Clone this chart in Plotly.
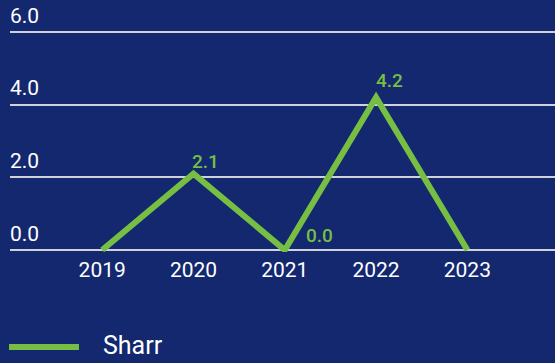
import plotly.graph_objects as go

years = ["2019", "2020", "2021", "2022", "2023"]
values = [0.0, 2.1, 0.0, 4.2, 0.0]
label_flags = [False, True, True, True, False]
series_name = "Sharr"
y_ticks = [0, 2, 4, 6]

# pixel offsets for value labels (style, not data)
label_xshift = [0, 12, 35, 13, 0]
label_yshift = [0, 12, 15, 17, 0]

BG = "#13286f"
GREEN = "#76bf43"

fig = go.Figure()
fig.add_trace(go.Scatter(
    x=years, y=values, mode="lines", name=series_name,
    line=dict(color=GREEN, width=6), cliponaxis=False, showlegend=False,
))

for i, (yr, v) in enumerate(zip(years, values)):
    if label_flags[i]:
        fig.add_annotation(
            x=i, y=v, xref="x", yref="y", text=f"{v:.1f}", showarrow=False,
            xanchor="center", yanchor="middle",
            xshift=label_xshift[i], yshift=label_yshift[i],
            font=dict(family="Roboto", size=19, color=GREEN, weight=500),
        )

# legend (sample line + series name) drawn below the plot
fig.add_shape(type="line", xref="paper", yref="paper",
              x0=-0.0018, x1=0.1266, y0=-0.428, y1=-0.428,
              line=dict(color=GREEN, width=6))
fig.add_annotation(x=0.167, y=-0.423, xref="paper", yref="paper",
                   text=series_name, showarrow=False,
                   xanchor="left", yanchor="middle",
                   font=dict(family="Roboto", size=25, color="white"))

fig.update_layout(
    width=555, height=363,
    margin=dict(l=10, r=0, t=30, b=111, autoexpand=False),
    paper_bgcolor=BG, plot_bgcolor=BG,
    font=dict(family="Roboto", color="white"),
    showlegend=False,
    xaxis=dict(type="category", range=[-1.01, 4.96], showgrid=False,
               zeroline=False, showline=False, ticks="", automargin=False,
               ticklabelstandoff=3,
               tickfont=dict(size=21, color="white")),
    yaxis=dict(range=[-0.055, 6.055], tickvals=y_ticks, ticktext=[f"{t:.1f}" for t in y_ticks],
               showgrid=True, gridcolor="#cfd2dc", gridwidth=1.5,
               zeroline=False, showline=False, ticks="", automargin=False,
               ticklabelposition="inside top", ticklabeloverflow="allow",
               ticklabelshift=-2, ticklabelstandoff=-3,
               tickfont=dict(size=21, color="white")),
)

fig.write_html("out.html")
